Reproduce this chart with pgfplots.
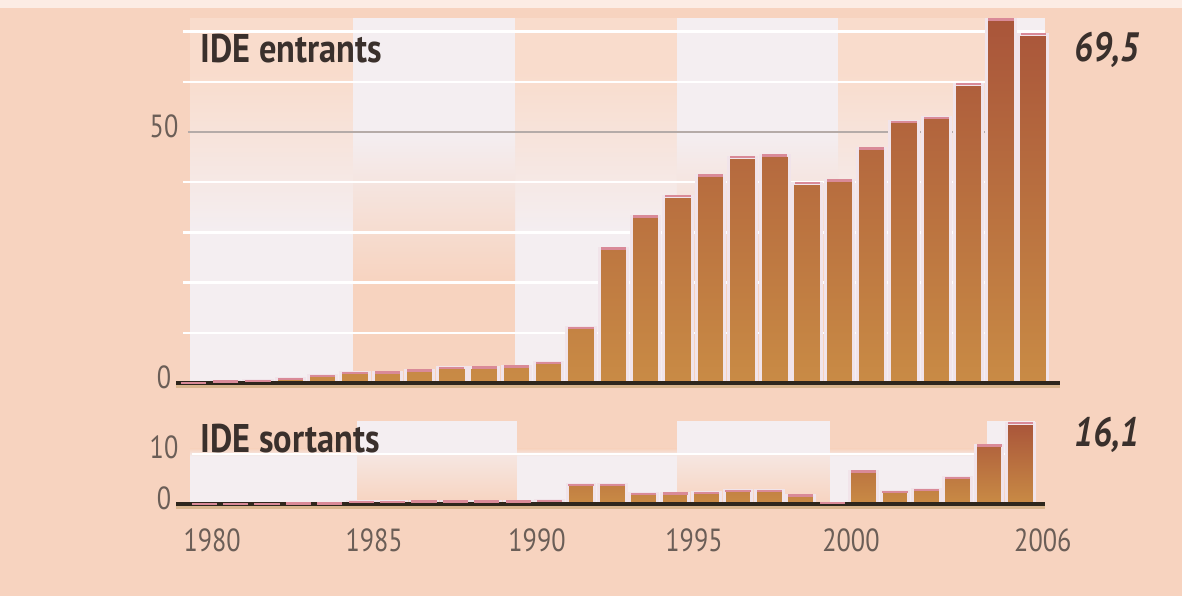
\documentclass[border=0pt]{standalone}
\usepackage{pgfplots}
\pgfplotsset{compat=1.18}
\usepackage{fontspec}
\setmainfont{PT Sans}
\newfontfamily\tickfont[FakeStretch=0.82]{PT Sans}
\newfontfamily\titlefont[FakeStretch=0.86]{PT Sans}
\newfontfamily\valfont[FakeStretch=0.84]{PT Sans}
\definecolor{peach}{HTML}{F7D3BF}
\definecolor{peachL}{HTML}{F9DCCC}
\definecolor{light}{HTML}{F4EEF1}
\definecolor{barTop}{HTML}{A9553A}
\definecolor{barBot}{HTML}{C98B45}
\definecolor{barEdge}{HTML}{F1E4EA}
\definecolor{pinkTop}{HTML}{D98A98}
\definecolor{baseDark}{HTML}{2E261C}
\definecolor{baseTan}{HTML}{D9B58E}
\definecolor{gridGrey}{HTML}{B5ABA8}
\definecolor{tickC}{HTML}{6B5E57}
\definecolor{titleC}{HTML}{3A302C}
\definecolor{topStrip}{HTML}{FCECE4}

\pgfplotstableread{
year v
1980 0.06
1981 0.27
1982 0.43
1983 0.8
1984 1.4
1985 2.0
1986 2.1
1987 2.5
1988 3.0
1989 3.1
1990 3.3
1991 4.0
1992 11.0
1993 26.8
1994 33.2
1995 37.2
1996 41.3
1997 45.0
1998 45.3
1999 39.8
2000 40.3
2001 46.7
2002 52.0
2003 52.8
2004 59.5
2005 72.4
2006 69.5
}\inflows
\pgfplotstableread{
year v
1980 0
1981 0
1982 0.04
1983 0.09
1984 0.13
1985 0.4
1986 0.4
1987 0.5
1988 0.5
1989 0.5
1990 0.5
1991 0.6
1992 3.8
1993 3.8
1994 2.0
1995 2.1
1996 2.2
1997 2.6
1998 2.6
1999 1.7
2000 0.2
2001 6.5
2002 2.4
2003 2.8
2004 5.2
2005 11.6
2006 16.1
}\outflows

\pgfplotsset{
  ideaxis/.style={
    scale only axis, clip=false,
    axis lines*=left, axis line style={draw=none},
    major tick length=0pt,
    /pgf/number format/assume math mode=true,
    ticklabel style={font=\tickfont\fontsize{16}{16}\selectfont, text=tickC},
    yticklabel style={anchor=center, xshift=-6pt, yshift=3pt},
  },
  barstyle/.style={ybar, bar width=0.88, bar shift=0pt, draw=barEdge, line width=1.5pt,
    top color=barTop, bottom color=barBot},
  markstyle/.style={only marks, mark=-, mark size=6.3pt,
    mark options={draw=pinkTop, line width=1.2pt}},
}

\begin{document}
\begin{tikzpicture}
\fill[peach] (0,0) rectangle (591pt,298pt);
\fill[topStrip] (0,294pt) rectangle (591pt,298pt);

% ---------- top panel: IDE entrants ----------
\begin{axis}[ideaxis,
  at={(88pt,106.5pt)}, anchor=south west,
  width=442pt, height=182.5pt,
  xmin=1979.46, xmax=2006.83, ymin=0, ymax=72.7,
  xtick=\empty, ytick={0,50},
]
% bands light at the bottom
\pgfplotsinvokeforeach{{1979.9/1984.95},{1989.96/1994.97},{1999.96/2005.1}}{
  \pgfplotsforeachungrouped \a/\b in {#1}{
    \edef\temp{\noexpand\fill[light] (axis cs:\a,0) rectangle (axis cs:\b,30);
      \noexpand\shade[bottom color=light, top color=peachL] (axis cs:\a,30) rectangle (axis cs:\b,62);
      \noexpand\fill[peachL] (axis cs:\a,62) rectangle (axis cs:\b,72.7);}
    \temp
  }
}
% bands light at the top
\pgfplotsinvokeforeach{{1984.95/1989.96},{1994.97/1999.96},{2005.1/2006.37}}{
  \pgfplotsforeachungrouped \a/\b in {#1}{
    \edef\temp{\noexpand\fill[light] (axis cs:\a,50) rectangle (axis cs:\b,72.7);
      \noexpand\shade[bottom color=peach, top color=light] (axis cs:\a,20) rectangle (axis cs:\b,50);}
    \temp
  }
}
\pgfplotsinvokeforeach{10,20,30,40,60,70}{
  \draw[white, line width=1.2pt] (axis cs:1979.68,#1) -- (axis cs:2006.37,#1);
}
\draw[gridGrey, line width=1pt] (axis cs:1979.83,50) -- (axis cs:2006.37,50);
\addplot[barstyle] table[x=year, y=v] {\inflows};
\addplot[markstyle] table[x=year, y=v] {\inflows};
\draw[baseTan, line width=1.5pt] ([yshift=-1.8pt]rel axis cs:0,0) -- ([yshift=-1.8pt]rel axis cs:1,0);
\draw[baseDark, line width=2pt] (rel axis cs:0,0) -- (rel axis cs:1,0);
\end{axis}

% ---------- bottom panel: IDE sortants ----------
\begin{axis}[ideaxis,
  at={(88pt,46pt)}, anchor=south west,
  width=434.5pt, height=41.5pt,
  xmin=1979.1, xmax=2006.78, ymin=0, ymax=16.5,
  ytick={0,10},
  xtick={1980.25,1985.41,1990.6,1995.6,2000.6,2006.71},
  xticklabels={1980,1985,1990,1995,2000,2006},
  xticklabel style={anchor=center, yshift=-18pt},
]
\pgfplotsinvokeforeach{{1979.55/1984.87},{1989.96/1995.06},{1999.93/2004.93}}{
  \pgfplotsforeachungrouped \a/\b in {#1}{
    \edef\temp{\noexpand\fill[light] (axis cs:\a,0) rectangle (axis cs:\b,9.5);
      \noexpand\shade[bottom color=light, top color=peach] (axis cs:\a,9.5) rectangle (axis cs:\b,11);}
    \temp
  }
}
\pgfplotsinvokeforeach{{1984.87/1989.96},{1995.06/1999.93},{2004.93/2006.46}}{
  \pgfplotsforeachungrouped \a/\b in {#1}{
    \edef\temp{\noexpand\fill[light] (axis cs:\a,10) rectangle (axis cs:\b,16.5);
      \noexpand\shade[bottom color=peach, top color=light!60!peachL] (axis cs:\a,0) rectangle (axis cs:\b,10);}
    \temp
  }
}
\draw[white, line width=1.2pt] (axis cs:1979.6,10) -- (axis cs:2006.4,10);
\addplot[barstyle] table[x=year, y=v] {\outflows};
\addplot[markstyle] table[x=year, y=v] {\outflows};
\draw[baseTan, line width=1.5pt] ([yshift=-1.8pt]rel axis cs:0,0) -- ([yshift=-1.8pt]rel axis cs:1,0);
\draw[baseDark, line width=2pt] (rel axis cs:0,0) -- (rel axis cs:1,0);
\end{axis}

% ---------- titles and end values ----------
\node[anchor=west, inner sep=0pt, text=titleC, font=\titlefont\bfseries\fontsize{20}{20}\selectfont] at (100pt,273.5pt) {IDE entrants};
\node[anchor=west, inner sep=0pt, text=titleC, font=\titlefont\bfseries\fontsize{20}{20}\selectfont] at (100pt,78.5pt) {IDE sortants};
\node[inner sep=0pt, text=titleC, font=\valfont\bfseries\itshape\fontsize{20.5}{21}\selectfont] at (553.5pt,273pt) {69,5};
\node[inner sep=0pt, text=titleC, font=\valfont\bfseries\itshape\fontsize{20.5}{21}\selectfont] at (553.5pt,80.5pt) {16,1};
\end{tikzpicture}
\end{document}
